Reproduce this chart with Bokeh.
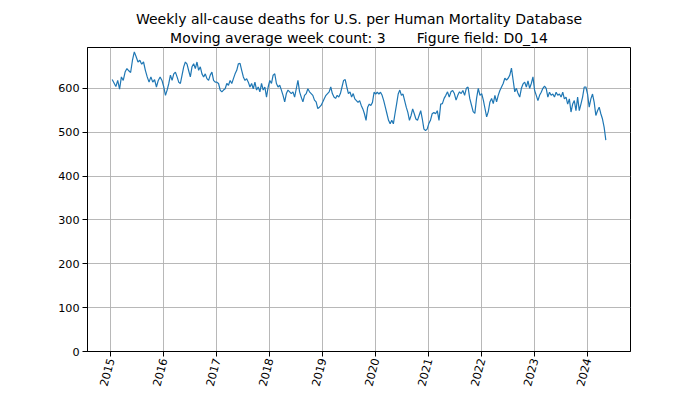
import numpy as np
import pandas as pd
from bokeh.plotting import figure
from bokeh.models import Range1d, FixedTicker, DatetimeTickFormatter, Title
from bokeh.embed import file_html
from bokeh.resources import INLINE

# ---- data ----
first_week = "2015-01-10"
last_week = "2024-05-06"
years = [2015, 2016, 2017, 2018, 2019, 2020, 2021, 2022, 2023, 2024]

deaths_2015 = [620, 612, 604, 618, 598, 626, 618, 637, 645, 640, 636, 664, 683, 672,
               660, 664, 655, 660, 641, 626, 614, 626, 614, 620, 603, 618, 626, 618]
deaths_2016 = [603, 584, 596, 611, 630, 618, 633, 637, 626, 614, 611, 630, 649, 660,
               655, 640, 626, 649, 656, 645, 660, 641, 649, 633, 626, 633, 622, 618,
               630, 637, 618, 614]
deaths_2017 = [614, 611, 596, 592, 596, 599, 611, 607, 618, 611, 622, 633, 641, 656,
               657, 641, 626, 618, 622, 614, 603, 611, 599, 614, 596, 603, 592, 611,
               596, 603, 580, 603]
deaths_2018 = [618, 611, 630, 633, 611, 603, 607, 596, 584, 569, 588, 596, 592, 588,
               592, 580, 599, 618, 592, 580, 569, 584, 588, 599, 592, 588, 584, 573,
               569, 554, 557, 561]
deaths_2019 = [569, 577, 584, 588, 592, 603, 588, 580, 577, 584, 580, 588, 603, 618,
               620, 603, 588, 592, 580, 588, 576, 572, 568, 572, 561, 553, 542, 527,
               557, 564, 561, 568, 591]
deaths_2020 = [587, 591, 587, 591, 584, 572, 557, 542, 527, 519, 527, 519, 542, 564,
               587, 596, 584, 587, 572, 557, 545, 527, 538, 553, 542, 530, 527, 538,
               549, 530, 507, 504, 507]
deaths_2021 = [519, 527, 542, 545, 542, 549, 527, 564, 565, 577, 584, 592, 580, 592,
               595, 588, 573, 584, 592, 588, 595, 584, 600, 603, 577, 562, 547, 543,
               577, 600, 584]
deaths_2022 = [588, 573, 554, 535, 547, 569, 577, 565, 584, 569, 584, 595, 603, 611,
               623, 619, 623, 630, 646, 619, 592, 600, 588, 580, 600, 610, 614, 603,
               617, 600, 611, 626]
deaths_2023 = [595, 584, 572, 584, 591, 600, 605, 600, 580, 591, 584, 587, 580, 591,
               584, 587, 580, 591, 576, 580, 564, 576, 546, 564, 572, 549, 580, 549,
               564, 580, 603, 603]
deaths_2024 = [587, 557, 576, 587, 568, 538, 549, 557, 542, 530, 511, 482]

y_ticks = [0, 100, 200, 300, 400, 500, 600]
x_tick_years = [2015, 2016, 2017, 2018, 2019, 2020, 2021, 2022, 2023, 2024]

title_line1 = "Weekly all-cause deaths for U.S. per Human Mortality Database"
title_line2 = "Moving average week count: 3\u00a0\u00a0\u00a0\u00a0\u00a0\u00a0\u00a0Figure field: D0_14"

# ---- build the series ----
segments = [deaths_2015, deaths_2016, deaths_2017, deaths_2018, deaths_2019,
            deaths_2020, deaths_2021, deaths_2022, deaths_2023, deaths_2024]
t0 = pd.Timestamp(first_week)
t1 = pd.Timestamp(last_week)
xs, ys = [], []
for yr, vals in zip(years, segments):
    s = max(pd.Timestamp(f"{yr}-01-01"), t0)
    e = min(pd.Timestamp(f"{yr + 1}-01-01"), t1)
    is_last = (e == t1)
    ns = np.linspace(s.value, e.value, len(vals), endpoint=is_last)
    xs.extend(pd.to_datetime(ns.astype("int64")))
    ys.extend(vals)

span = t1 - t0
x_start = t0 - 0.05 * span
x_end = t1 + 0.05 * span
y_max = max(ys) + 0.05 * (max(ys) - min(ys))

FONT = "DejaVu Sans"

p = figure(width=700, height=394, x_axis_type="datetime",
           output_backend="svg", toolbar_location=None,
           x_range=Range1d(x_start, x_end), y_range=Range1d(0, y_max),
           min_border_left=87, min_border_right=70, min_border_top=47,
           min_border_bottom=43)
p.title.visible = False

t2 = Title(text=title_line2, align="center", text_font=FONT,
           text_font_size="14px", text_font_style="normal", standoff=3,
           text_color="black")
t1_ = Title(text=title_line1, align="center", text_font=FONT,
            text_font_size="14px", text_font_style="normal", standoff=0,
            text_color="black")
p.add_layout(t2, "above")
p.add_layout(t1_, "above")

p.line(xs, ys, line_color="#1f77b4", line_width=1.2)

x_tick_ms = [pd.Timestamp(f"{y}-01-01").value / 1e6 for y in x_tick_years]
p.xaxis.ticker = FixedTicker(ticks=x_tick_ms)
p.xaxis.formatter = DatetimeTickFormatter(years="%Y", months="%Y", days="%Y",
                                          hours="%Y", minutes="%Y", seconds="%Y")
p.xaxis.major_label_orientation = np.deg2rad(75)
p.yaxis.ticker = FixedTicker(ticks=y_ticks)

for ax in (p.xaxis, p.yaxis):
    ax.major_label_text_font = FONT
    ax.major_label_text_font_size = "11.2px"
    ax.major_label_text_color = "black"
    ax.axis_line_color = "black"
    ax.axis_line_width = 1
    ax.major_tick_line_color = "black"
    ax.major_tick_out = 5
    ax.major_tick_in = 0
    ax.minor_tick_line_color = None
p.xaxis.major_label_standoff = 2
p.yaxis.major_label_standoff = 3

p.grid.grid_line_color = "#b0b0b0"
p.grid.grid_line_width = 0.9
p.outline_line_color = "black"
p.outline_line_width = 1
p.background_fill_color = "white"
p.border_fill_color = "white"

open("out.html", "w").write(file_html(p, INLINE))
